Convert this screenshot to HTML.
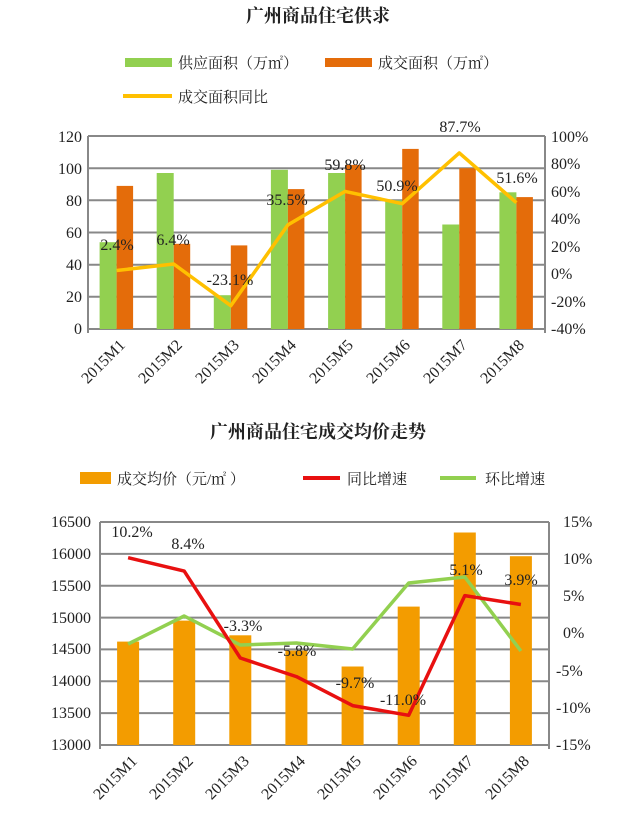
<!DOCTYPE html>
<html><head><meta charset="utf-8"><style>
html,body{margin:0;padding:0;background:#fff;}
svg{display:block;}
.t{font-family:"Liberation Serif","Noto Serif CJK SC",serif;font-size:16px;fill:#222;}
.c{font-family:"Liberation Serif","Noto Serif CJK SC",serif;fill:#222;}
</style></head><body>
<svg width="640" height="813" viewBox="0 0 640 813" xmlns="http://www.w3.org/2000/svg">
<!-- Chart 1 -->
<text class="c" x="318" y="22" font-size="18" font-weight="bold" text-anchor="middle">广州商品住宅供求</text>
<rect x="125" y="58" width="47" height="9" fill="#92d050"/>
<text class="c" x="178" y="68" font-size="15">供应面积（万㎡）</text>
<rect x="325" y="58" width="47" height="9" fill="#e46c0a"/>
<text class="c" x="378" y="68" font-size="15">成交面积（万㎡）</text>
<rect x="123" y="94" width="49" height="4" fill="#ffc000"/>
<text class="c" x="178" y="102" font-size="15">成交面积同比</text>
<g stroke="#888" stroke-width="2">
<line x1="88" y1="136" x2="545" y2="136"/><line x1="88" y1="168.2" x2="545" y2="168.2"/>
<line x1="88" y1="200.3" x2="545" y2="200.3"/><line x1="88" y1="232.5" x2="545" y2="232.5"/>
<line x1="88" y1="264.7" x2="545" y2="264.7"/><line x1="88" y1="296.8" x2="545" y2="296.8"/>
<line x1="88" y1="329" x2="545" y2="329"/>
<line x1="88" y1="136" x2="88" y2="333"/><line x1="545" y1="136" x2="545" y2="333"/>
</g>
<g fill="#92d050">
<rect x="99.6" y="242.2" width="17" height="86.8"/><rect x="156.7" y="173" width="17" height="156"/>
<rect x="213.8" y="295.2" width="17" height="33.8"/><rect x="270.9" y="169.8" width="17" height="159.2"/>
<rect x="328.1" y="173" width="17" height="156"/><rect x="385.2" y="200.3" width="17" height="128.7"/>
<rect x="442.3" y="224.5" width="17" height="104.5"/><rect x="499.4" y="192.3" width="17" height="136.7"/>
</g>
<g fill="#e46c0a">
<rect x="116.6" y="185.9" width="16.5" height="143.1"/><rect x="173.7" y="243.8" width="16.5" height="85.2"/>
<rect x="230.8" y="245.4" width="16.5" height="83.6"/><rect x="287.9" y="189.1" width="16.5" height="139.9"/>
<rect x="345.1" y="164.9" width="16.5" height="164.1"/><rect x="402.2" y="148.9" width="16.5" height="180.1"/>
<rect x="459.3" y="168.2" width="16.5" height="160.8"/><rect x="516.4" y="197.1" width="16.5" height="131.9"/>
</g>
<polyline fill="none" stroke="#ffc000" stroke-width="3.5" stroke-linejoin="round" points="116.6,270.5 173.7,264 230.8,305.7 287.9,224.9 345.1,191.4 402.2,203.7 459.3,152.9 516.4,202.7"/>
<g class="t" text-anchor="middle">
<text x="117" y="250">2.4%</text><text x="173" y="245">6.4%</text><text x="230" y="285">-23.1%</text>
<text x="287" y="205">35.5%</text><text x="345" y="170">59.8%</text><text x="397" y="191">50.9%</text>
<text x="460" y="132">87.7%</text><text x="517" y="183">51.6%</text>
</g>
<g class="t" text-anchor="end">
<text x="82" y="142">120</text><text x="82" y="174">100</text><text x="82" y="206">80</text>
<text x="82" y="238">60</text><text x="82" y="270">40</text><text x="82" y="302">20</text><text x="82" y="334">0</text>
</g>
<g class="t">
<text x="551" y="142">100%</text><text x="551" y="169">80%</text><text x="551" y="197">60%</text>
<text x="551" y="224">40%</text><text x="551" y="252">20%</text><text x="551" y="279">0%</text>
<text x="551" y="307">-20%</text><text x="551" y="334">-40%</text>
</g>
<g class="t" text-anchor="end">
<text transform="translate(126,346) rotate(-45)">2015M1</text>
<text transform="translate(183,346) rotate(-45)">2015M2</text>
<text transform="translate(240,346) rotate(-45)">2015M3</text>
<text transform="translate(297,346) rotate(-45)">2015M4</text>
<text transform="translate(354,346) rotate(-45)">2015M5</text>
<text transform="translate(411,346) rotate(-45)">2015M6</text>
<text transform="translate(468,346) rotate(-45)">2015M7</text>
<text transform="translate(525,346) rotate(-45)">2015M8</text>
</g>
<!-- Chart 2 -->
<text class="c" x="318" y="438" font-size="18" font-weight="bold" text-anchor="middle">广州商品住宅成交均价走势</text>
<rect x="80" y="472" width="31" height="12" fill="#f39c00"/>
<text class="c" x="117" y="484" font-size="15">成交均价（元/㎡ ）</text>
<rect x="303" y="476" width="37" height="4" fill="#e81010"/>
<text class="c" x="347" y="484" font-size="15">同比增速</text>
<rect x="440" y="476" width="36" height="4" fill="#92d050"/>
<text class="c" x="485" y="484" font-size="15">环比增速</text>
<g stroke="#888" stroke-width="2">
<line x1="100" y1="522" x2="549" y2="522"/><line x1="100" y1="553.9" x2="549" y2="553.9"/>
<line x1="100" y1="585.7" x2="549" y2="585.7"/><line x1="100" y1="617.6" x2="549" y2="617.6"/>
<line x1="100" y1="649.4" x2="549" y2="649.4"/><line x1="100" y1="681.3" x2="549" y2="681.3"/>
<line x1="100" y1="713.1" x2="549" y2="713.1"/><line x1="100" y1="745" x2="549" y2="745"/>
<line x1="100" y1="522" x2="100" y2="749"/><line x1="549" y1="522" x2="549" y2="749"/>
</g>
<g fill="#f39c00">
<rect x="117.1" y="641.6" width="22" height="103.4"/><rect x="173.2" y="620.6" width="22" height="124.4"/>
<rect x="229.3" y="635.3" width="22" height="109.7"/><rect x="285.4" y="650.6" width="22" height="94.4"/>
<rect x="341.6" y="666.5" width="22" height="78.5"/><rect x="397.7" y="606.6" width="22" height="138.4"/>
<rect x="453.8" y="532.5" width="22" height="212.5"/><rect x="509.9" y="556.2" width="22" height="188.8"/>
</g>
<polyline fill="none" stroke="#92d050" stroke-width="3.5" stroke-linejoin="round" points="128.1,644 184.2,616 240.3,645 296.4,643 352.6,649 408.7,583 464.8,577 520.9,651"/>
<polyline fill="none" stroke="#e81010" stroke-width="3.5" stroke-linejoin="round" points="128.1,557.7 184.2,571.1 240.3,658 296.4,676.6 352.6,705.6 408.7,715.3 464.8,595.6 520.9,604.5"/>
<g class="t" text-anchor="middle">
<text x="132" y="537">10.2%</text><text x="188" y="549">8.4%</text><text x="243" y="631">-3.3%</text>
<text x="297" y="656">-5.8%</text><text x="355" y="688">-9.7%</text><text x="403" y="705">-11.0%</text>
<text x="466" y="575">5.1%</text><text x="521" y="585">3.9%</text>
</g>
<g class="t" text-anchor="end">
<text x="91" y="527">16500</text><text x="91" y="559">16000</text><text x="91" y="591">15500</text>
<text x="91" y="623">15000</text><text x="91" y="654">14500</text><text x="91" y="686">14000</text>
<text x="91" y="718">13500</text><text x="91" y="750">13000</text>
</g>
<g class="t">
<text x="563" y="527">15%</text><text x="563" y="564">10%</text><text x="563" y="601">5%</text>
<text x="563" y="638">0%</text><text x="556" y="676">-5%</text><text x="556" y="713">-10%</text>
<text x="556" y="750">-15%</text>
</g>
<g class="t" text-anchor="end">
<text transform="translate(138,762) rotate(-45)">2015M1</text>
<text transform="translate(194,762) rotate(-45)">2015M2</text>
<text transform="translate(250,762) rotate(-45)">2015M3</text>
<text transform="translate(306,762) rotate(-45)">2015M4</text>
<text transform="translate(362,762) rotate(-45)">2015M5</text>
<text transform="translate(418,762) rotate(-45)">2015M6</text>
<text transform="translate(474,762) rotate(-45)">2015M7</text>
<text transform="translate(530,762) rotate(-45)">2015M8</text>
</g>
</svg>
</body></html>
